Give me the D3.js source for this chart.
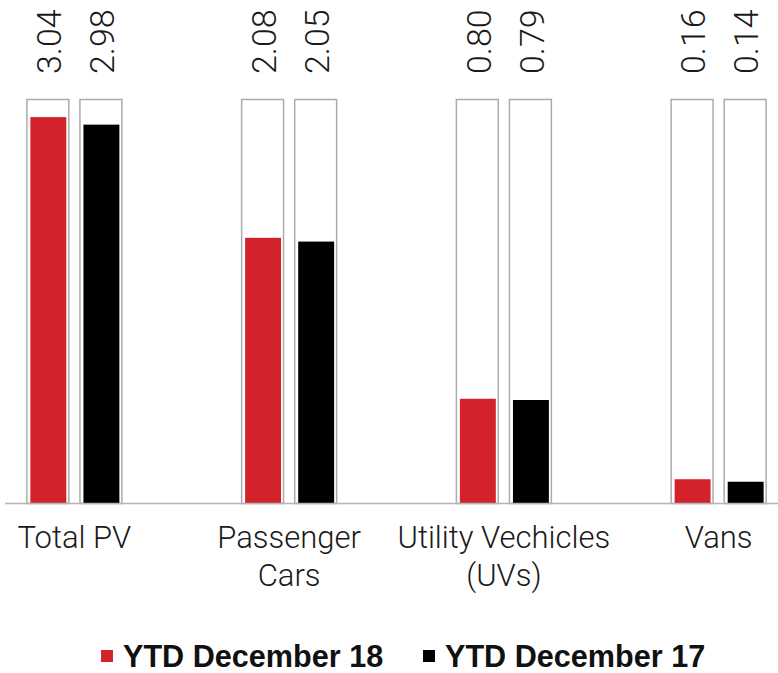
<!DOCTYPE html>
<html>
<head>
<meta charset="utf-8">
<script src="https://cdn.jsdelivr.net/npm/d3@7"></script>
<style>
  html, body { margin: 0; padding: 0; background: #fff; }
  svg { display: block; }
</style>
</head>
<body>
<svg id="chart" width="778" height="673"></svg>
<script>
// ---- data ----
const categories = ["Total PV", "Passenger Cars", "Utility Vechicles (UVs)", "Vans"];
const categoryLines = [["Total PV"], ["Passenger", "Cars"], ["Utility Vechicles", "(UVs)"], ["Vans"]];
const seriesNames = ["YTD December 18", "YTD December 17"];
const ytd18 = [3.04, 2.08, 0.80, 0.16];
const ytd17 = [2.98, 2.05, 0.79, 0.14];
const valueLabels18 = ["3.04", "2.08", "0.80", "0.16"];
const valueLabels17 = ["2.98", "2.05", "0.79", "0.14"];
const frameValue = 3.18;      // full-height background frame behind each bar
const seriesColors = ["#d3222a", "#000000"];

// ---- layout ----
const W = 778, H = 673;
const baseY = 503.5, topY = 99.5;
const svg = d3.select("#chart");

const x = d3.scaleBand().domain(categories).range([-33, 826]).padding(0);
const xs = d3.scaleBand().domain(seriesNames).range([-47.5, 47.5]).paddingInner(0.21).paddingOuter(0);
const y = d3.scaleLinear().domain([-0.033, frameValue]).range([baseY, topY]);

const rows = categories.map((c, i) => ({
  cat: c,
  vals: [
    { s: seriesNames[0], v: ytd18[i], lab: valueLabels18[i], color: seriesColors[0] },
    { s: seriesNames[1], v: ytd17[i], lab: valueLabels17[i], color: seriesColors[1] }
  ]
}));

const groups = svg.selectAll("g.grp").data(rows).join("g")
  .attr("class", "grp")
  .attr("transform", d => `translate(${x(d.cat) + x.bandwidth() / 2},0)`);

const bars = groups.selectAll("g.bar").data(d => d.vals).join("g").attr("class", "bar");

// frame
bars.append("rect")
  .attr("x", d => xs(d.s))
  .attr("y", y(frameValue))
  .attr("width", xs.bandwidth())
  .attr("height", baseY - y(frameValue))
  .attr("fill", "#fff")
  .attr("stroke", "#ababab")
  .attr("stroke-width", 1.5);

// fill
const inset = 3.5;
bars.append("rect")
  .attr("x", d => xs(d.s) + inset)
  .attr("y", d => y(d.v))
  .attr("width", xs.bandwidth() - inset * 2 + 1)
  .attr("height", d => baseY - y(d.v))
  .attr("fill", d => d.color);

// value labels (rotated)
bars.append("text")
  .attr("transform", d => `translate(${xs(d.s) + xs.bandwidth() / 2 + 1},74) rotate(-90)`)
  .attr("dy", "0.36em")
  .attr("text-anchor", "start")
  .attr("font-family", "Roboto, 'Open Sans', sans-serif")
  .attr("font-weight", 300)
  .attr("font-size", 34)
  .attr("fill", "#1a1a1a")
  .text(d => d.lab);

// baseline
svg.append("line")
  .attr("x1", 5).attr("x2", W)
  .attr("y1", baseY).attr("y2", baseY)
  .attr("stroke", "#b5b5b5").attr("stroke-width", 1.5);

// x axis labels
const xAxis = d3.axisBottom(x).tickSize(0).tickPadding(0);
const axG = svg.append("g").attr("transform", `translate(0,${baseY})`).call(xAxis);
axG.select(".domain").remove();
axG.selectAll(".tick text").each(function(d, i) {
  const t = d3.select(this);
  t.text(null)
    .attr("y", 0).attr("dy", null)
    .attr("font-family", "Roboto, 'Open Sans', sans-serif")
    .attr("font-weight", 300)
    .attr("font-size", 31)
    .attr("fill", "#1a1a1a")
    .attr("text-anchor", "middle");
  categoryLines[i].forEach((ln, k) => {
    t.append("tspan").attr("x", 0).attr("y", 44 + k * 38).text(ln);
  });
});

// legend
const legend = svg.append("g").attr("font-family", "'Liberation Sans', Arial, sans-serif")
  .attr("font-weight", 700).attr("font-size", 30.6).attr("fill", "#111");
const legendX = [101, 423];
seriesNames.forEach((s, i) => {
  legend.append("rect").attr("x", legendX[i]).attr("y", 650).attr("width", 12).attr("height", 12)
    .attr("fill", seriesColors[i]);
  legend.append("text").attr("x", legendX[i] + 22).attr("y", 667).text(s);
});
</script>
</body>
</html>
